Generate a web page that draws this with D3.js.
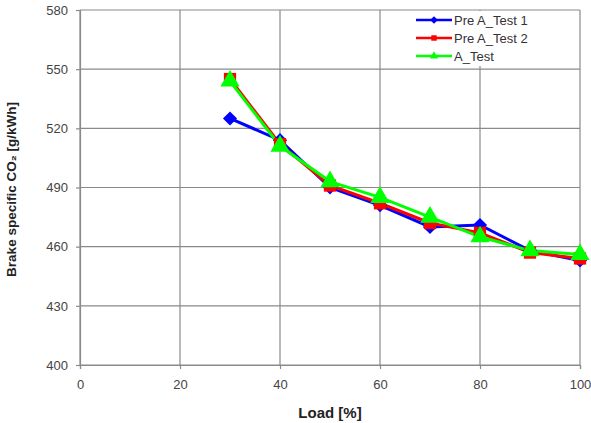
<!DOCTYPE html>
<html><head><meta charset="utf-8">
<script src="https://cdn.jsdelivr.net/npm/d3@7"></script>
<style>body{margin:0;background:#fff}svg{display:block;font-family:"Liberation Sans",Arial,sans-serif}</style>
</head><body><svg id="c" width="591" height="423"></svg>
<script>
const loads = [30, 40, 50, 60, 70, 80, 90, 100];
const preTest1 = [525, 514, 490, 481, 470, 471, 458, 453];
const preTest2 = [545, 512, 491, 482, 472, 467, 457, 454];
const aTest = [544, 511, 493, 485, 475, 465, 458, 456];
const seriesNames = ["Pre A_Test 1", "Pre A_Test 2", "A_Test"];
const xTicks = [0, 20, 40, 60, 80, 100];
const yTicks = [400, 430, 460, 490, 520, 550, 580];

const colors = ["#0000ff", "#ff0000", "#00ff00"];
const symbols = [d3.symbolSquare, d3.symbolSquare, d3.symbolTriangle];
const rotations = [45, 0, 0];
const symSizes = [100, 150, 160];
const series = [preTest1, preTest2, aTest];

const svg = d3.select("#c");
const x = d3.scaleLinear().domain([0, 100]).range([80, 580]);
const y = d3.scaleLinear().domain([400, 580]).range([365, 10]);

// grid
const g = svg.append("g");
g.selectAll(".vg").data(xTicks).join("line")
  .attr("x1", d => x(d)).attr("x2", d => x(d)).attr("y1", y(580)).attr("y2", y(400))
  .attr("stroke", "#8a8a8a").attr("stroke-width", 1.2);
g.selectAll(".hg").data(yTicks).join("line")
  .attr("x1", x(0)).attr("x2", x(100)).attr("y1", d => y(d)).attr("y2", d => y(d))
  .attr("stroke", "#8a8a8a").attr("stroke-width", 1.2);

// axes
const xAxis = d3.axisBottom(x).tickValues(xTicks).tickSize(4).tickPadding(8);
const yAxis = d3.axisLeft(y).tickValues(yTicks).tickSize(4).tickPadding(8);
const gx = svg.append("g").attr("transform", `translate(0,${y(400)})`).call(xAxis);
const gy = svg.append("g").attr("transform", `translate(${x(0)},0)`).call(yAxis);
[gx, gy].forEach(a => {
  a.select(".domain").attr("stroke", "#8a8a8a").attr("stroke-width", 1.2);
  a.selectAll(".tick line").attr("stroke", "#8a8a8a").attr("stroke-width", 1.2);
  a.selectAll(".tick text").attr("fill", "#444").style("font-size", "13px")
   .style("font-family", '"Liberation Sans", Arial, sans-serif');
});
gx.selectAll(".tick text").attr("dy", "0.95em");

// lines and markers
const line = d3.line().x((d, i) => x(loads[i])).y(d => y(d));
series.forEach((s, k) => {
  svg.append("path").datum(s).attr("d", line)
    .attr("fill", "none").attr("stroke", colors[k]).attr("stroke-width", 3);
});
series.forEach((s, k) => {
  svg.append("g").selectAll("path").data(s).join("path")
    .attr("transform", (d, i) => `translate(${x(loads[i])},${y(d)}) rotate(${rotations[k]})`)
    .attr("d", d3.symbol().type(symbols[k]).size(symSizes[k]))
    .attr("fill", colors[k]);
});

// legend
const lg = svg.append("g");
lg.append("rect").attr("x", 386).attr("y", y(580) + 1).attr("width", x(100) - 387).attr("height", 55)
  .attr("fill", "#fff");
seriesNames.forEach((n, k) => {
  const cy = 20 + k * 18;
  lg.append("line").attr("x1", 416).attr("x2", 452).attr("y1", cy).attr("y2", cy)
    .attr("stroke", colors[k]).attr("stroke-width", 2.5);
  lg.append("path").attr("transform", `translate(434,${cy}) rotate(${rotations[k]})`)
    .attr("d", d3.symbol().type(symbols[k]).size(30)).attr("fill", colors[k]);
  lg.append("text").attr("x", 454).attr("y", cy).attr("dy", "0.36em")
    .attr("fill", "#333").style("font-size", "13px").text(n);
});

// titles
svg.append("text").attr("x", 330).attr("y", 418).attr("text-anchor", "middle")
  .style("font-size", "15px").style("font-weight", "bold").attr("fill", "#222").text("Load [%]");
svg.append("text").attr("transform", `translate(16,${(y(400) + y(580)) / 2 + 2}) rotate(-90)`)
  .attr("text-anchor", "middle").style("font-size", "13.5px").style("font-weight", "bold")
  .attr("fill", "#222").text("Brake specific CO₂ [g/kWh]");
</script></body></html>
